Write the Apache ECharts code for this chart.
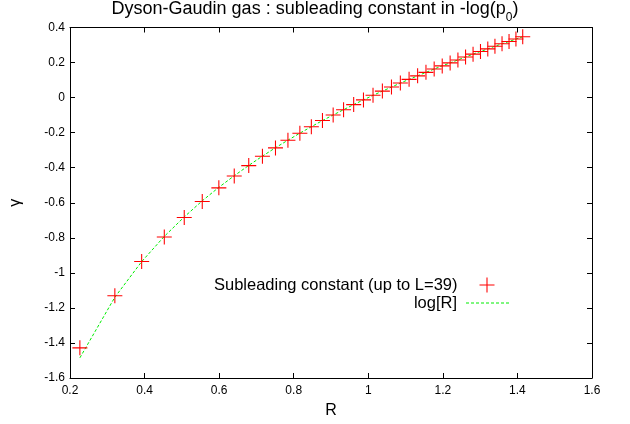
<!DOCTYPE html>
<html>
<head>
<meta charset="utf-8">
<script src="https://cdn.jsdelivr.net/npm/echarts@6/dist/echarts.min.js"></script>
<style>html,body{margin:0;padding:0;background:#fff}#c{width:630px;height:424px}</style>
</head>
<body>
<div id="c"></div>
<script>
var titleText = 'Dyson-Gaudin gas : subleading constant in -log(p';
var seriesPointsName = 'Subleading constant (up to L=39)';
var seriesLineName = 'log[R]';
var xTicks = [0.2, 0.4, 0.6, 0.8, 1, 1.2, 1.4, 1.6];
var yTicks = [-1.6, -1.4, -1.2, -1, -0.8, -0.6, -0.4, -0.2, 0, 0.2, 0.4];
var R = [0.2265, 0.3203, 0.3922, 0.4529, 0.5064, 0.5547, 0.5992, 0.6405, 0.6794, 0.7161,
         0.7511, 0.7845, 0.8165, 0.8473, 0.8771, 0.9058, 0.9337, 0.9608, 0.9871, 1.0127,
         1.0378, 1.0622, 1.0860, 1.1094, 1.1323, 1.1547, 1.1767, 1.1983, 1.2195, 1.2404,
         1.2609, 1.2810, 1.3009, 1.3205, 1.3397, 1.3587, 1.3775, 1.3960, 1.4142];
var gamma = [-1.428, -1.131, -0.935, -0.795, -0.684, -0.593, -0.515, -0.447, -0.388, -0.335,
             -0.287, -0.243, -0.203, -0.166, -0.131, -0.099, -0.069, -0.040, -0.013, 0.013,
             0.037, 0.060, 0.083, 0.104, 0.124, 0.144, 0.163, 0.181, 0.198, 0.215,
             0.232, 0.248, 0.263, 0.278, 0.293, 0.307, 0.320, 0.334, 0.347];
var logR = [-1.485, -1.139, -0.936, -0.792, -0.681, -0.589, -0.512, -0.446, -0.387, -0.334,
            -0.286, -0.243, -0.203, -0.166, -0.131, -0.099, -0.069, -0.040, -0.013, 0.013,
            0.037, 0.060, 0.083, 0.104, 0.124, 0.144, 0.163, 0.181, 0.198, 0.215,
            0.232, 0.248, 0.263, 0.278, 0.293, 0.307, 0.320, 0.334, 0.347];

var ptsData = R.map(function (r, i) { return [r, gamma[i]]; });
var lineData = R.map(function (r, i) { return [r, logR[i]]; });
var plusPath = 'path://M-0.5,-7L0.5,-7L0.5,-0.5L7,-0.5L7,0.5L0.5,0.5L0.5,7L-0.5,7L-0.5,0.5L-7,0.5L-7,-0.5L-0.5,-0.5Z';
var dashPath = 'path://M0,0h3v1h-3zM5,0h3v1h-3zM10,0h3v1h-3zM15,0h3v1h-3zM20,0h3v1h-3zM25,0h3v1h-3zM30,0h3v1h-3zM35,0h3v1h-3zM40,0h3v1h-3z';
var font = 'Liberation Sans, Arial, sans-serif';

var chart = echarts.init(document.getElementById('c'), null, {renderer: 'canvas'});
function fmt(v) { return String(Math.round(v * 10) / 10); }
var axCommon = {
  axisLine: {show: true, onZero: false, lineStyle: {color: '#000', width: 1}},
  axisTick: {show: true, inside: true, length: 5, lineStyle: {color: '#000'}},
  splitLine: {show: false}
};
var legText = {fontFamily: font, fontSize: 16.5, lineHeight: 18, color: '#000'};
chart.setOption({
  animation: false,
  backgroundColor: '#fff',
  title: {
    text: '{a|' + titleText + '}{s|0}{a|)}',
    left: 'center', top: 0, padding: 0,
    textStyle: {fontWeight: 'normal', rich: {
      a: {fontFamily: font, fontSize: 18, fontWeight: 'normal', color: '#000', lineHeight: 20, verticalAlign: 'top'},
      s: {fontFamily: font, fontSize: 12, fontWeight: 'normal', color: '#000', lineHeight: 24, verticalAlign: 'bottom'}
    }}
  },
  grid: {left: 66, right: 38, top: 27.5, bottom: 45, containLabel: false},
  legend: [
    {data: [{name: seriesPointsName, icon: plusPath}], right: 135.5, top: 276, align: 'right', padding: 0,
     itemWidth: 15, itemHeight: 15, selectedMode: false,
     textStyle: Object.assign({padding: [0, 17, 0, 0]}, legText)},
    {data: [{name: seriesLineName, icon: dashPath}], right: 121, top: 294, align: 'right', padding: 0,
     itemWidth: 43, itemHeight: 1, selectedMode: false,
     textStyle: Object.assign({padding: [0, 4, 0, 0]}, legText)}
  ],
  xAxis: [
    Object.assign({type: 'value', min: 0.2, max: 1.6, interval: 0.2, position: 'bottom',
      name: 'R', nameLocation: 'middle', nameGap: 25,
      nameTextStyle: {fontFamily: font, fontSize: 16, color: '#000'},
      axisLabel: {fontFamily: font, fontSize: 12, color: '#000', margin: 7, formatter: fmt}}, axCommon),
    Object.assign({type: 'value', min: 0.2, max: 1.6, interval: 0.2, position: 'top',
      axisLabel: {show: false}}, axCommon)
  ],
  yAxis: [
    Object.assign({type: 'value', min: -1.6, max: 0.4, interval: 0.2, position: 'left',
      name: 'γ', nameLocation: 'middle', nameGap: 46, nameRotate: 90,
      nameTextStyle: {fontFamily: font, fontSize: 16, color: '#000'},
      axisLabel: {fontFamily: font, fontSize: 12, color: '#000', margin: 5, formatter: fmt}}, axCommon),
    Object.assign({type: 'value', min: -1.6, max: 0.4, interval: 0.2, position: 'right',
      axisLabel: {show: false}}, axCommon)
  ],
  series: [
    {name: seriesLineName, type: 'line', data: lineData, showSymbol: false, symbol: 'none',
     lineStyle: {color: '#00ee00', width: 1, type: [3, 2]}, itemStyle: {color: '#00ee00'}, z: 2},
    {name: seriesPointsName, type: 'scatter', data: ptsData, symbol: plusPath, symbolSize: 15,
     symbolKeepAspect: true, itemStyle: {color: '#ff0000', opacity: 1}, z: 3}
  ]
});
</script>
</body>
</html>
